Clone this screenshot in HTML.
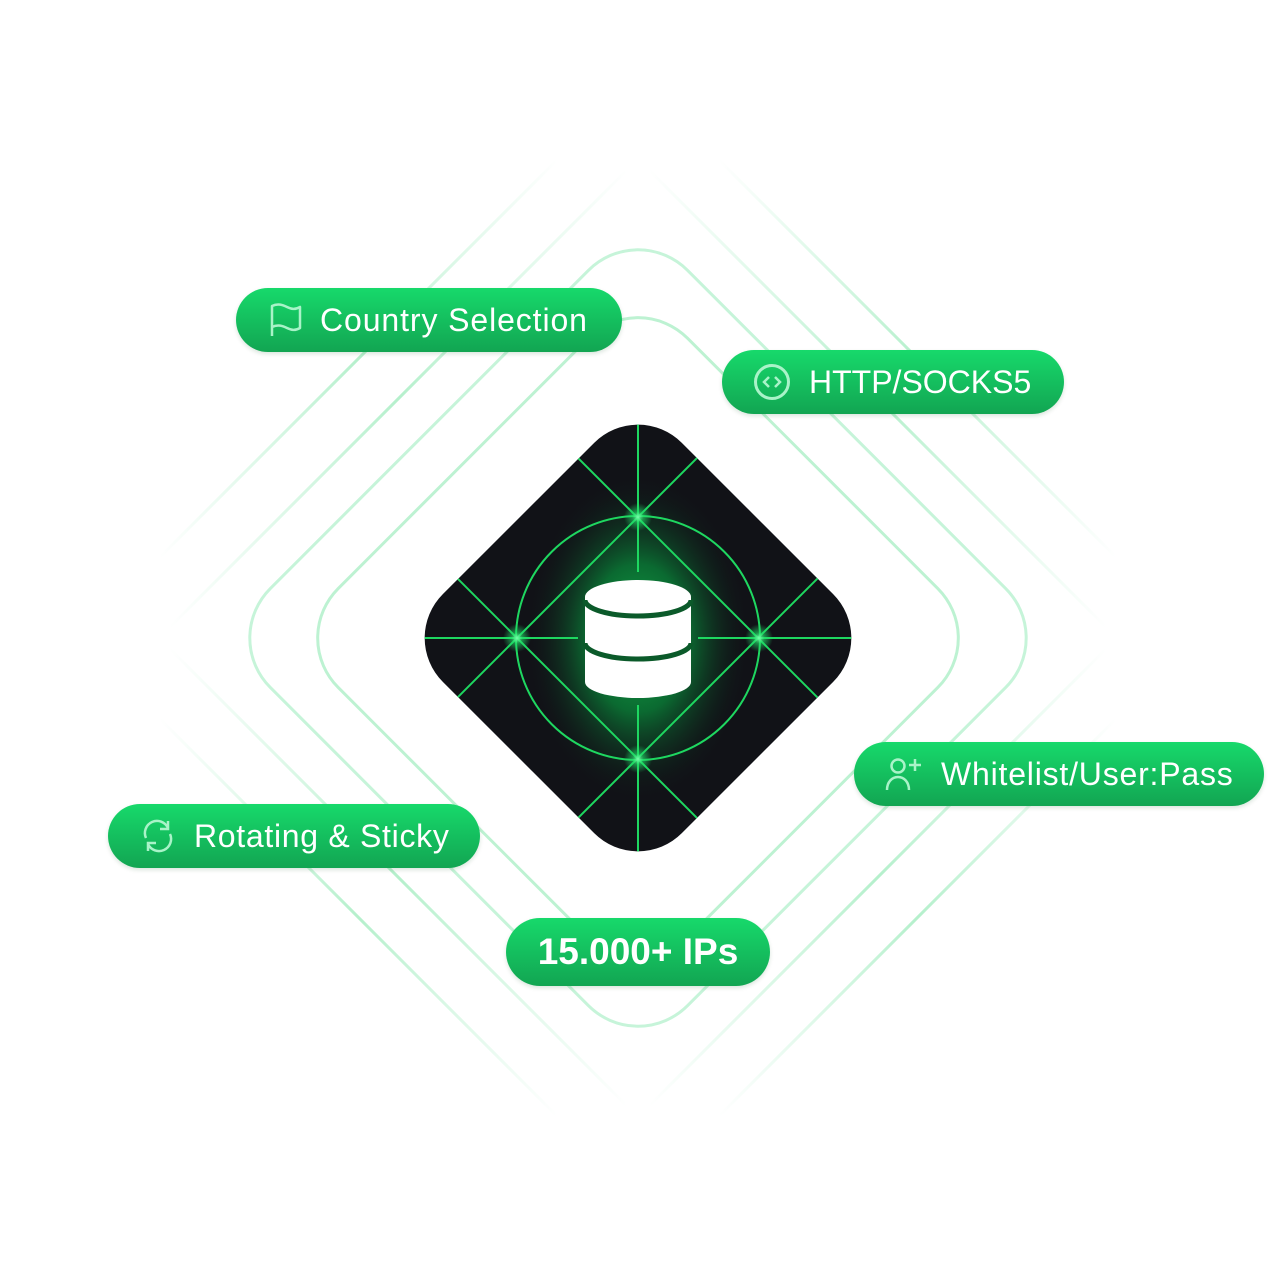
<!DOCTYPE html>
<html><head><meta charset="utf-8"><style>
html,body{margin:0;padding:0;background:#fff;}
.wrap{position:relative;width:1277px;height:1277px;overflow:hidden;background:#fff;font-family:"Liberation Sans",sans-serif;}
svg{position:absolute;left:0;top:0}
.pill{position:absolute;height:64px;border-radius:32px;background:linear-gradient(#17d96b,#12a552);color:#fff;display:flex;align-items:center;font-size:32px;box-sizing:border-box;white-space:nowrap;box-shadow:0 2px 4px rgba(0,80,30,0.15);}
.pill svg{position:static;margin-right:18px;flex:none}
</style></head><body><div class="wrap">
<svg width="1277" height="1277" viewBox="0 0 1277 1277">
<defs>
<linearGradient id="lg" x1="0" y1="0" x2="1" y2="0">
<stop offset="0" stop-color="#c4f4d8" stop-opacity="0"/>
<stop offset="0.5" stop-color="#b5f0cc" stop-opacity="1"/>
<stop offset="1" stop-color="#c4f4d8" stop-opacity="0"/>
</linearGradient>
<radialGradient id="glow" cx="638" cy="638" r="150" gradientUnits="userSpaceOnUse" gradientTransform="translate(638 638) scale(0.75 1.1) translate(-638 -638)">
<stop offset="0" stop-color="#10a848"/>
<stop offset="0.45" stop-color="#0b6a31"/>
<stop offset="1" stop-color="#111217" stop-opacity="0"/>
</radialGradient>
<radialGradient id="spark" cx="0.5" cy="0.5" r="0.5">
<stop offset="0" stop-color="#7dffad"/>
<stop offset="0.4" stop-color="#22e06a" stop-opacity="0.6"/>
<stop offset="1" stop-color="#22e06a" stop-opacity="0"/>
</radialGradient>
<clipPath id="dc"><rect x="469" y="469" width="338" height="338" rx="62" transform="rotate(45 638 638)"/></clipPath>
</defs>
<g stroke="url(#lg)" stroke-width="3" fill="none">
<line x1="160" y1="557" x2="557" y2="160"/><line x1="170" y1="627" x2="627" y2="170"/>
<line x1="1116" y1="557" x2="719" y2="160"/><line x1="1106" y1="627" x2="649" y2="170"/>
<line x1="160" y1="719" x2="557" y2="1116"/><line x1="170" y1="649" x2="627" y2="1106"/>
<line x1="1116" y1="719" x2="719" y2="1116"/><line x1="1106" y1="649" x2="649" y2="1106"/>
</g>
<rect x="343" y="343" width="590" height="590" rx="70" transform="rotate(45 638 638)" fill="none" stroke="#c6f4d9" stroke-width="3"/>
<rect x="391" y="391" width="494" height="494" rx="70" transform="rotate(45 638 638)" fill="none" stroke="#bdf2d2" stroke-width="3"/>
<g clip-path="url(#dc)">
<rect x="400" y="400" width="480" height="480" fill="#111217"/>
<ellipse cx="638" cy="638" rx="120" ry="170" fill="url(#glow)"/>
<g stroke="#1ed760" stroke-width="2" fill="none">
<circle cx="638" cy="638" r="122"/>
<line x1="638" y1="400" x2="638" y2="572"/><line x1="638" y1="705" x2="638" y2="880"/>
<line x1="400" y1="638" x2="578" y2="638"/><line x1="698" y1="638" x2="880" y2="638"/>
<line x1="400" y1="755" x2="760" y2="395"/><line x1="516" y1="880" x2="880" y2="516"/>
<line x1="400" y1="521" x2="760" y2="881"/><line x1="516" y1="396" x2="880" y2="760"/>
</g>
<circle cx="638" cy="517" r="14" fill="url(#spark)"/><circle cx="638" cy="759" r="14" fill="url(#spark)"/>
<circle cx="517" cy="638" r="14" fill="url(#spark)"/><circle cx="759" cy="638" r="14" fill="url(#spark)"/>
</g>
<g>
<path d="M585 597 V682 A53 16 0 0 0 691 682 V597 Z" fill="#fff"/>
<ellipse cx="638" cy="597" rx="53" ry="17" fill="#fff"/>
<path d="M585 600 A53 16 0 0 0 691 600" fill="none" stroke="#0b5a2a" stroke-width="5"/>
<path d="M585 643 A53 16 0 0 0 691 643" fill="none" stroke="#0b5a2a" stroke-width="5"/>
</g>
</svg>

<div class="pill" style="left:236px;top:288px;width:386px;padding-left:34px;">
<svg width="32" height="36" viewBox="0 0 32 36"><path d="M2 34V4c6-3 11-1 15 1s8 3 13 0v21c-5 3-9 2-13 0s-9-4-15-1" fill="none" stroke="#a9f3c8" stroke-width="2.5" stroke-linejoin="round"/></svg><span style="letter-spacing:0.9px">Country Selection</span></div>

<div class="pill" style="left:722px;top:350px;width:342px;padding-left:31px;">
<svg width="38" height="38" viewBox="0 0 38 38"><circle cx="19" cy="19" r="16.5" fill="none" stroke="#a9f3c8" stroke-width="3"/><path d="M16 14l-5 5 5 5M22 14l5 5-5 5" fill="none" stroke="#a9f3c8" stroke-width="2.5"/></svg>HTTP/SOCKS5</div>

<div class="pill" style="left:854px;top:742px;width:410px;padding-left:31px;">
<svg width="38" height="36" viewBox="0 0 38 36"><circle cx="13" cy="10" r="6.5" fill="none" stroke="#a9f3c8" stroke-width="2.5"/><path d="M2 34c0-8 5-13 11-13s11 5 11 13" fill="none" stroke="#a9f3c8" stroke-width="2.5"/><path d="M30 3v12M24 9h12" stroke="#a9f3c8" stroke-width="2.5"/></svg><span style="letter-spacing:0.8px">Whitelist/User:Pass</span></div>

<div class="pill" style="left:108px;top:804px;width:372px;padding-left:32px;">
<svg width="36" height="36" viewBox="0 0 36 36"><path d="M6 20A12 12 0 0 1 28 10M30 16A12 12 0 0 1 8 26" fill="none" stroke="#a9f3c8" stroke-width="2.5"/><path d="M28 3v8h-8M8 33v-8h8" fill="none" stroke="#a9f3c8" stroke-width="2.5"/></svg><span style="letter-spacing:0.7px">Rotating &amp; Sticky</span></div>

<div class="pill" style="left:506px;top:918px;width:264px;height:68px;border-radius:34px;justify-content:center;font-size:37px;font-weight:bold;">15.000+ IPs</div>
</div></body></html>
